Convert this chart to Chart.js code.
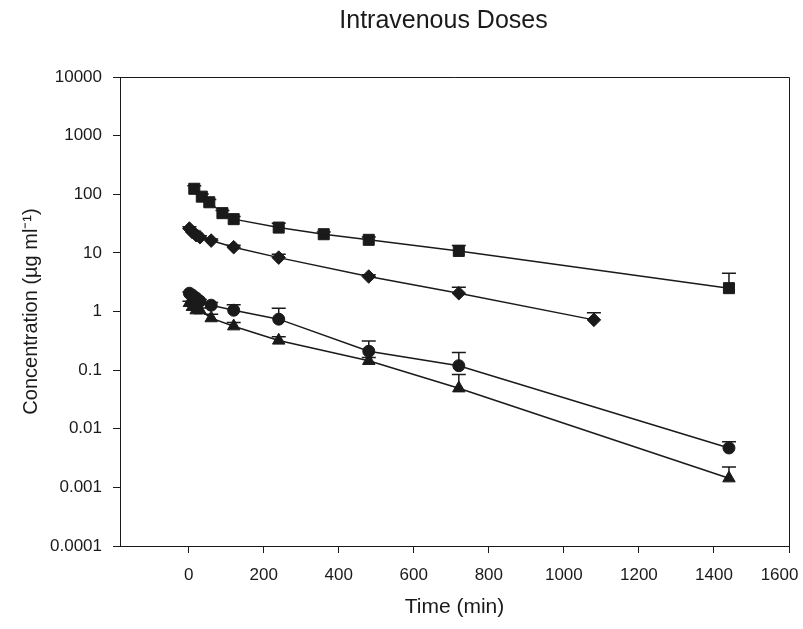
<!DOCTYPE html>
<html>
<head>
<meta charset="utf-8">
<script src="https://cdn.jsdelivr.net/npm/chart.js@4.4.1/dist/chart.umd.min.js"></script>
<style>
  html, body { margin: 0; padding: 0; background: #fff; }
</style>
</head>
<body>
<canvas id="chart" width="803" height="629"></canvas>
<script>
// -------------------------
// Data
// -------------------------
const squareTime = [15, 35, 55, 90, 120, 240, 360, 480, 720, 1440];
const squareConc = [124, 91, 73, 47.6, 37.6, 27, 20.8, 16.7, 10.8, 2.5];
const squareErr  = [16, 10, 8, 5, 4, 5, 2, 2, 2.5, 2.0];

const diamondTime = [2, 10, 20, 30, 60, 120, 240, 480, 720, 1080];
const diamondConc = [26, 22.5, 20, 18.5, 16.2, 12.5, 8.3, 3.95, 2.05, 0.72];
const diamondErr  = [2, 1.5, 1.5, 1, 1, 1, 1.2, 0.3, 0.55, 0.23];

const circleTime = [2, 10, 20, 30, 60, 120, 240, 480, 720, 1440];
const circleConc = [2.05, 1.9, 1.7, 1.5, 1.28, 1.05, 0.74, 0.21, 0.119, 0.0047];
const circleErr  = [0.1, 0.1, 0.1, 0.1, 0.15, 0.25, 0.4, 0.105, 0.08, 0.0013];

const triangleTime = [2, 10, 20, 30, 60, 120, 240, 480, 720, 1440];
const triangleConc = [1.4, 1.2, 1.05, 1.05, 0.77, 0.56, 0.32, 0.144, 0.049, 0.00143];
const triangleErr  = [0.1, 0.1, 0.1, 0.1, 0.13, 0.09, 0.05, 0.02, 0.035, 0.0008];

const xTicks = [0, 200, 400, 600, 800, 1000, 1200, 1400, 1600];
const xTickLabels = ['0', '200', '400', '600', '800', '1000', '1200', '1400', '1600'];
const yTicks = [0.0001, 0.001, 0.01, 0.1, 1, 10, 100, 1000, 10000];
const yTickLabels = ['0.0001', '0.001', '0.01', '0.1', '1', '10', '100', '1000', '10000'];

const FONT = '"Liberation Sans", Arial, sans-serif';
const INK = '#1a1a1a';

function points(t, c, e) {
    return t.map((v, i) => ({ x: v, y: c[i], err: e[i] }));
}

function series(t, c, e, style, radius) {
    return {
        data: points(t, c, e),
        showLine: true,
        borderColor: INK,
        borderWidth: 1.5,
        pointStyle: style,
        pointRadius: radius,
        pointBackgroundColor: INK,
        pointBorderColor: INK,
        pointBorderWidth: 1
    };
}

// -------------------------
// Plugins
// -------------------------
const errorBars = {
    id: 'errorBars',
    beforeDatasetsDraw(chart) {
        const { ctx, scales: { x, y } } = chart;
        ctx.save();
        ctx.strokeStyle = INK;
        ctx.lineWidth = 1.5;
        chart.data.datasets.forEach(ds => {
            ds.data.forEach(p => {
                const px = x.getPixelForValue(p.x);
                const py = y.getPixelForValue(p.y);
                const top = y.getPixelForValue(p.y + p.err);
                ctx.beginPath();
                ctx.moveTo(px, py);
                ctx.lineTo(px, top);
                ctx.moveTo(px - 7, top);
                ctx.lineTo(px + 7, top);
                ctx.stroke();
            });
        });
        ctx.restore();
    }
};

const frameAndTitle = {
    id: 'frameAndTitle',
    afterDraw(chart) {
        const { ctx, chartArea: a } = chart;
        ctx.save();
        ctx.strokeStyle = INK;
        ctx.lineWidth = 1;
        ctx.beginPath();
        ctx.moveTo(a.left, a.top + 0.5);
        ctx.lineTo(a.right + 0.5, a.top + 0.5);
        ctx.lineTo(a.right + 0.5, a.bottom);
        ctx.stroke();

        ctx.fillStyle = INK;
        ctx.font = '25px ' + FONT;
        ctx.textAlign = 'center';
        ctx.textBaseline = 'middle';
        ctx.fillText('Intravenous Doses', (a.left + a.right) / 2 - 11, 21);
        ctx.restore();
    }
};

// -------------------------
// Chart
// -------------------------
new Chart(document.getElementById('chart'), {
    type: 'scatter',
    data: {
        datasets: [
            series(squareTime, squareConc, squareErr, 'rect', 7.8),
            series(diamondTime, diamondConc, diamondErr, 'rectRot', 6.8),
            series(circleTime, circleConc, circleErr, 'circle', 6),
            series(triangleTime, triangleConc, triangleErr, 'triangle', 7.2)
        ]
    },
    options: {
        responsive: false,
        animation: false,
        layout: { padding: { top: 77, right: 14, left: 0, bottom: 0 } },
        plugins: {
            legend: { display: false },
            tooltip: { enabled: false }
        },
        scales: {
            x: {
                type: 'linear',
                min: -183,
                max: 1600,
                afterBuildTicks: s => { s.ticks = xTicks.map(v => ({ value: v })); },
                afterFit: s => { s.height = 83; s.paddingLeft = 0; s.paddingRight = 0; },
                grid: { drawOnChartArea: false, tickLength: 7, color: INK, lineWidth: 1 },
                border: { color: INK, width: 1 },
                ticks: {
                    color: INK,
                    font: { family: FONT, size: 17 },
                    padding: 12,
                    maxRotation: 0,
                    // last label is pulled inwards so it stays inside the figure
                    callback: (v, i, t) => i === t.length - 1 ? xTickLabels[i] + '    ' : xTickLabels[i]
                },
                title: {
                    display: true,
                    text: 'Time (min)',
                    color: INK,
                    font: { family: FONT, size: 21 },
                    padding: { top: 0, bottom: 9 }
                }
            },
            y: {
                type: 'logarithmic',
                min: 0.0001,
                max: 10000,
                afterBuildTicks: s => { s.ticks = yTicks.map(v => ({ value: v })); },
                afterFit: s => { s.width = 120; s.paddingTop = 0; s.paddingBottom = 0; },
                grid: { drawOnChartArea: false, tickLength: 7, color: INK, lineWidth: 1 },
                border: { color: INK, width: 1 },
                ticks: {
                    color: INK,
                    font: { family: FONT, size: 17 },
                    padding: 11,
                    callback: (v, i) => yTickLabels[i]
                },
                title: {
                    display: true,
                    text: 'Concentration (µg ml⁻¹)',
                    color: INK,
                    font: { family: FONT, size: 20 },
                    padding: { top: 19, bottom: 0 }
                }
            }
        }
    },
    plugins: [errorBars, frameAndTitle]
});
</script>
</body>
</html>
